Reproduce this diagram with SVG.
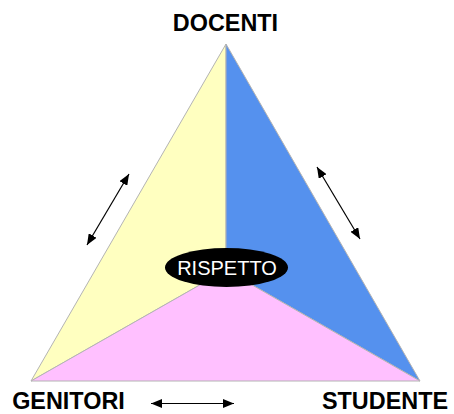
<svg xmlns="http://www.w3.org/2000/svg" width="454" height="414" viewBox="0 0 454 414">
<defs>
<style>
.face{stroke:#b4b4b4;stroke-width:1;stroke-linejoin:round}
.lbl{font-family:"Liberation Sans",Arial,sans-serif;font-weight:bold;font-size:23.4px;fill:#000;text-anchor:middle}
.conn{stroke:#000;stroke-width:1.2;fill:none;marker-start:url(#ah);marker-end:url(#ah)}
</style>
<marker id="ah" viewBox="0 0 11 9" refX="11" refY="4.5" markerWidth="11" markerHeight="9" markerUnits="userSpaceOnUse" orient="auto-start-reverse">
<path d="M0,0 L11,4.5 L0,9 Z" fill="#000"/>
</marker>
</defs>
<rect width="454" height="414" fill="#fff"/>
<g id="triangle">
<polygon class="face" points="226,44 226,270 31,381" fill="#ffffc0"/>
<polygon class="face" points="226,44 420,381 226,270" fill="#5591ee"/>
<polygon class="face" points="31,381 226,270 420,381" fill="#ffc0ff"/>
</g>
<g id="rispetto">
<ellipse cx="226.5" cy="267.5" rx="61.5" ry="19.5" fill="#000"/>
<text x="227" y="275" font-family="'Liberation Sans',Arial,sans-serif" font-size="20" fill="#fff" text-anchor="middle">RISPETTO</text>
</g>
<g id="docenti"><text class="lbl" x="225.5" y="31">DOCENTI</text></g>
<g id="genitori"><text class="lbl" x="68.5" y="409">GENITORI</text></g>
<g id="studente"><text class="lbl" x="385" y="408.5">STUDENTE</text></g>
<g id="connectors">
<line class="conn" x1="87" y1="245" x2="129" y2="174"/>
<line class="conn" x1="317" y1="167" x2="360" y2="239"/>
<line class="conn" x1="151" y1="403.5" x2="234" y2="403.5"/>
</g>
</svg>
